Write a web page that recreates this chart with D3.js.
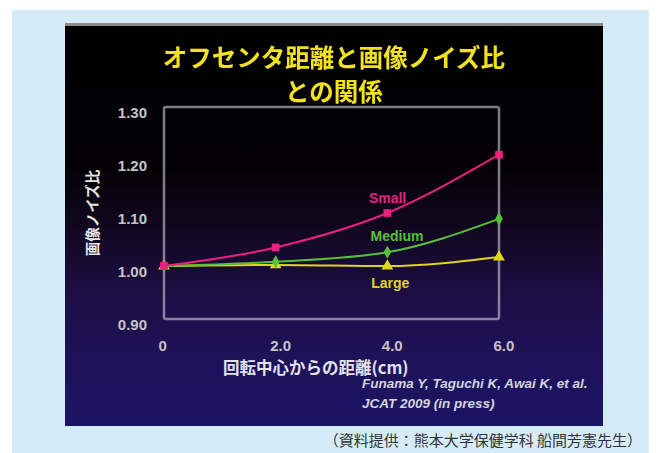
<!DOCTYPE html>
<html>
<head>
<meta charset="utf-8">
<script src="https://cdn.jsdelivr.net/npm/d3@7"></script>
<style>
  html, body { margin: 0; padding: 0; background: #ffffff; }
  svg { display: block; }
</style>
</head>
<body>
<svg id="chart" width="659" height="453"></svg>
<script>
// Distance from rotation centre (cm)
const distances = [0, 2.0, 4.0, 6.0];
// Image noise ratio for each phantom size
const smallValues  = [1.00, 1.035, 1.10, 1.21];
const mediumValues = [1.00, 1.008, 1.026, 1.089];
const largeValues  = [1.00, 1.002, 1.000, 1.017];
const seriesNames  = ["Small", "Medium", "Large"];
const yTicks = [0.90, 1.00, 1.10, 1.20, 1.30];
const xTicks = [0, 2.0, 4.0, 6.0];

const titleLines = ["オフセンタ距離と画像ノイズ比", "との関係"];
const yTitle = "画像ノイズ比";
const xTitle = "回転中心からの距離(cm)";
const citeLines = ["Funama Y, Taguchi K, Awai K, et al.", "JCAT 2009 (in press)"];
const caption = "（資料提供：熊本大学保健学科 船間芳憲先生）";

const latin = "'Liberation Sans', Arial, sans-serif";
const cjk = "'Noto Sans CJK JP', 'Noto Sans', sans-serif";

const svg = d3.select("#chart");

// page + slide backgrounds
svg.append("rect").attr("x", 12).attr("y", 10).attr("width", 637).attr("height", 443)
  .attr("fill", "#d5ebf8");

const defs = svg.append("defs");
const grad = defs.append("linearGradient").attr("id", "slideBg")
  .attr("x1", 0).attr("y1", 0).attr("x2", 0).attr("y2", 1);
[[0, "#000000"], [0.36, "#030105"], [0.52, "#120822"], [0.68, "#1d0e45"], [0.82, "#1e1258"], [1, "#1c1565"]]
  .forEach(([o, c]) => grad.append("stop").attr("offset", o).attr("stop-color", c));

const glow = defs.append("filter").attr("id", "soft").attr("x", "-5%").attr("y", "-20%")
  .attr("width", "110%").attr("height", "140%");
glow.append("feGaussianBlur").attr("stdDeviation", 0.6);

svg.append("rect").attr("x", 65).attr("y", 23).attr("width", 538).attr("height", 403)
  .attr("fill", "url(#slideBg)");
svg.append("rect").attr("x", 65).attr("y", 23).attr("width", 538).attr("height", 3)
  .attr("fill", "#8a8a8a");

// title
svg.append("g").selectAll("text").data(titleLines).join("text")
  .attr("x", 334).attr("y", (d, i) => 66.5 + i * 34)
  .attr("text-anchor", "middle")
  .attr("font-family", cjk).attr("font-weight", "bold").attr("font-size", 24.5)
  .attr("fill", "#f2e21a").attr("filter", "url(#soft)")
  .text(d => d);

// scales
const x = d3.scaleLinear().domain([0, 6]).range([164, 499]);
const y = d3.scaleLinear().domain([0.9, 1.3]).range([319, 107]);

// axes
const yAxis = svg.append("g").attr("transform", `translate(${x(0)},0)`)
  .call(d3.axisLeft(y).tickValues(yTicks).tickSize(0).tickPadding(17).tickFormat(d3.format(".2f")));
yAxis.select(".domain").remove();
yAxis.selectAll("text").attr("dy", "0.72em")
  .attr("font-family", latin).attr("font-weight", "bold").attr("font-size", 15)
  .attr("fill", "#c4c4c8");

const xAxis = svg.append("g").attr("transform", `translate(0,${y(0.9)})`)
  .call(d3.axisBottom(x).tickValues(xTicks).tickSize(0)
    .tickFormat(d => d === 0 ? "0" : d.toFixed(1)));
xAxis.select(".domain").remove();
xAxis.selectAll("text").attr("y", 32).attr("dy", null).attr("dx", -6)
  .attr("text-anchor", "start")
  .attr("font-family", latin).attr("font-weight", "bold").attr("font-size", 15)
  .attr("fill", "#c4c4c8");

// plot frame
svg.append("rect").attr("x", x(0)).attr("y", y(1.3))
  .attr("width", x(6) - x(0)).attr("height", y(0.9) - y(1.3))
  .attr("rx", 2).attr("fill", "none")
  .attr("stroke", "rgba(200,200,210,0.62)").attr("stroke-width", 2.5);

// axis titles
svg.append("text")
  .attr("transform", `translate(98,${213}) rotate(-90)`)
  .attr("text-anchor", "middle")
  .attr("font-family", cjk).attr("font-weight", "bold").attr("font-size", 14.5)
  .attr("fill", "#e6e6e6").text(yTitle);

svg.append("text").attr("x", 223).attr("y", 374)
  .attr("font-family", cjk).attr("font-weight", "bold").attr("font-size", 16.5)
  .attr("fill", "#e2e2ea").text(xTitle);

// series
const series = [
  { name: seriesNames[2], values: largeValues,  color: "#ded61c", shape: d3.symbolTriangle, size: 60, lx: 3.71, ly: 0.958 },
  { name: seriesNames[1], values: mediumValues, color: "#57c03a", shape: d3.symbolDiamond,  size: 50, lx: 3.70, ly: 1.047 },
  { name: seriesNames[0], values: smallValues,  color: "#ee1f82", shape: d3.symbolSquare,   size: 60, lx: 3.67, ly: 1.119 }
];

const line = d3.line().x(d => x(d[0])).y(d => y(d[1])).curve(d3.curveMonotoneX);

series.forEach(s => {
  const pts = distances.map((d, i) => [d, s.values[i]]);
  const g = svg.append("g");
  g.append("path").datum(pts).attr("d", line)
    .attr("fill", "none").attr("stroke", s.color).attr("stroke-width", 2);
  g.selectAll("path.m").data(pts).join("path").attr("class", "m")
    .attr("transform", d => `translate(${x(d[0])},${y(d[1])})`)
    .attr("d", d3.symbol().type(s.shape).size(s.size))
    .attr("fill", s.color);
  g.append("text").attr("x", x(s.lx)).attr("y", y(s.ly))
    .attr("font-family", latin).attr("font-weight", "bold").attr("font-size", 14)
    .attr("fill", s.color).text(s.name);
});

// citation
svg.append("g").selectAll("text").data(citeLines).join("text")
  .attr("x", 362).attr("y", (d, i) => 388 + i * 19.5)
  .attr("font-family", latin).attr("font-weight", "bold").attr("font-style", "italic")
  .attr("font-size", 13.5).attr("fill", "#d4d4de")
  .text(d => d);

// source caption
svg.append("text").attr("x", 642).attr("y", 446)
  .attr("text-anchor", "end")
  .attr("font-family", cjk).attr("font-size", 15).attr("fill", "#333333")
  .text(caption);
</script>
</body>
</html>
